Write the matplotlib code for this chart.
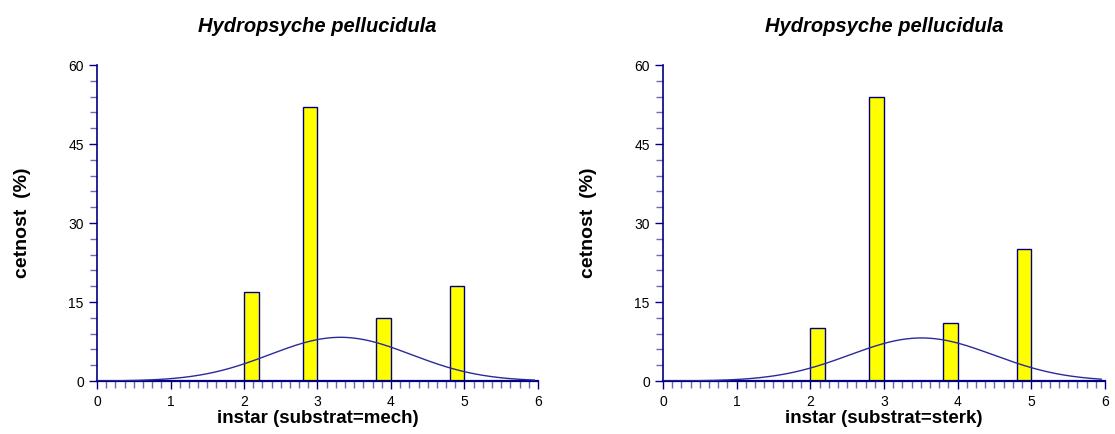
import numpy as np
import matplotlib.pyplot as plt
from matplotlib.ticker import MultipleLocator

plt.rcParams['font.family'] = ['Liberation Sans', 'DejaVu Sans']

# DATA
instar = np.array([2, 3, 4, 5])
cetnost_mech = np.array([17, 52, 12, 18])
cetnost_sterk = np.array([10, 54, 11, 25])
title = "Hydropsyche pellucidula"
xlabels = ["instar (substrat=mech)", "instar (substrat=sterk)"]
ylabel = "cetnost  (%)"

NAVY = "#000080"
bar_w = 0.2


def normal_fit(x, counts, bw=0.2):
    # fitted normal curve scaled to percent per bin width
    p = counts / counts.sum()
    m = np.sum(p * x)
    s = np.sqrt(np.sum(p * (x - m) ** 2))
    xs = np.linspace(0, 5.95, 300)
    ys = 100 * bw * np.exp(-0.5 * ((xs - m) / s) ** 2) / (s * np.sqrt(2 * np.pi))
    return xs, ys


def draw_panel(ax, counts, xlabel):
    left = np.where(instar == 2, instar, instar - bar_w)
    ax.bar(left, counts, width=bar_w, align='edge', color='#FFFF00',
           edgecolor=NAVY, linewidth=1.0, zorder=2)
    xs, ys = normal_fit(instar, counts)
    ax.plot(xs, ys, color='#2a2a9a', lw=1.0, zorder=3)

    ax.set_xlim(0, 6)
    ax.set_ylim(0, 60)
    ax.xaxis.set_major_locator(MultipleLocator(1))
    ax.xaxis.set_minor_locator(MultipleLocator(0.125))
    ax.yaxis.set_major_locator(MultipleLocator(15))
    ax.yaxis.set_minor_locator(MultipleLocator(3))

    for side in ['top', 'right']:
        ax.spines[side].set_visible(False)
    ax.spines['left'].set_color(NAVY)
    ax.spines['bottom'].set_color(NAVY)
    ax.spines['left'].set_linewidth(1.2)
    ax.spines['bottom'].set_linewidth(1.6)

    ax.tick_params(which='major', color=NAVY, length=6, width=1.0,
                   labelsize=10, labelcolor='black')
    ax.tick_params(which='minor', color='#6a6ab8', length=5, width=1.0)
    ax.tick_params(axis='x', which='both', pad=4)

    ax.set_title(title, fontsize=14.5, fontweight='bold', style='italic', pad=24)
    ax.set_xlabel(xlabel, fontsize=13.5, fontweight='bold', labelpad=1)
    ax.set_ylabel(ylabel, fontsize=14, fontweight='bold', labelpad=27)


fig = plt.figure(figsize=(11.15, 4.34), dpi=100)
ax1 = fig.add_axes([0.087, 0.122, 0.3955, 0.728])
ax2 = fig.add_axes([0.5946, 0.122, 0.3964, 0.728])

draw_panel(ax1, cetnost_mech, xlabels[0])
draw_panel(ax2, cetnost_sterk, xlabels[1])

fig.savefig("out.png", dpi=100)
